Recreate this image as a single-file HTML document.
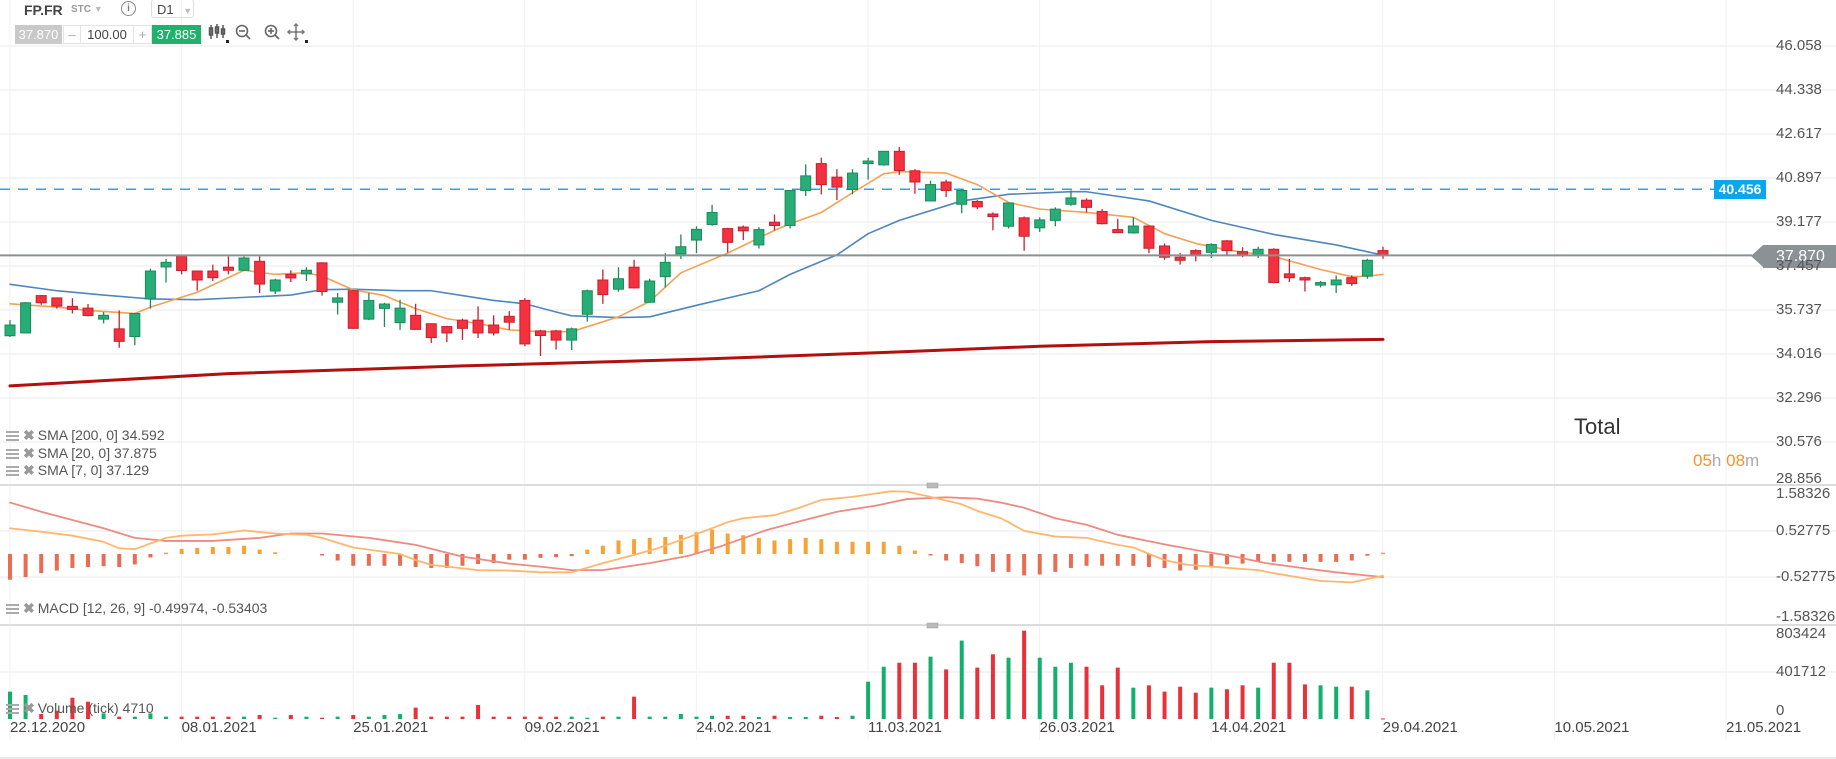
<!DOCTYPE html>
<html><head><meta charset="utf-8">
<style>
html,body{margin:0;padding:0;background:#fff;width:1836px;height:759px;overflow:hidden;font-family:"Liberation Sans",sans-serif;}
#root{position:relative;width:1836px;height:759px;}
svg{position:absolute;left:0;top:0;}
.t{position:absolute;white-space:nowrap;}
.leg{position:absolute;left:6px;font-size:14px;color:#555;white-space:nowrap;}
.ic{display:inline-block;width:13px;height:10px;border-top:2px solid #aaa;border-bottom:2px solid #aaa;position:relative;vertical-align:-1px;margin-right:4px;box-sizing:border-box;}
.ic:after{content:"";position:absolute;left:0;right:0;top:2px;height:2px;background:#aaa;}
.x{color:#999;font-weight:bold;margin-right:3px;}
.ax{position:absolute;font-size:15px;color:#555;left:1776px;}
.dt{position:absolute;top:719px;font-size:15px;color:#444;}
</style></head>
<body>
<div id="root">
<svg id="chart" width="1836" height="759"></svg>

<div class="t" style="left:24px;top:2px;font-size:14px;font-weight:bold;color:#444;">FP.FR</div>
<div class="t" style="left:71px;top:4px;font-size:10px;font-weight:bold;color:#999;">STC <span style="color:#bbb;font-size:9px;">▼</span></div>
<div class="t" style="left:121px;top:1px;width:13px;height:13px;border:1.5px solid #888;border-radius:50%;font-size:10px;color:#777;text-align:center;line-height:13px;font-weight:bold;">i</div>
<div class="t" style="left:151px;top:-1px;width:43px;height:19px;border:1px solid #ddd;border-radius:3px;font-size:13px;color:#444;line-height:19px;padding-left:5px;box-sizing:border-box;">D1 <span style="color:#bbb;font-size:9px;margin-left:6px;">▼</span></div>
<div class="t" style="left:15px;top:25px;width:47px;height:19px;background:#c9c9c9;color:#fff;font-size:13px;line-height:19px;text-align:center;">37.870</div>
<div class="t" style="left:63px;top:25px;width:16px;height:17px;border:1px solid #e3e3e3;color:#aaa;font-size:13px;line-height:17px;text-align:center;">–</div>
<div class="t" style="left:80px;top:25px;width:52px;height:17px;border:1px solid #e3e3e3;color:#444;font-size:13px;line-height:17px;text-align:center;">100.00</div>
<div class="t" style="left:133px;top:25px;width:17px;height:17px;border:1px solid #e3e3e3;color:#aaa;font-size:13px;line-height:17px;text-align:center;">+</div>
<div class="t" style="left:152px;top:25px;width:49px;height:19px;background:#1eb26d;color:#fff;font-size:13px;line-height:19px;text-align:center;">37.885</div>
<svg width="120" height="24" style="left:208px;top:22px;">
 <g stroke="#555" stroke-width="1.5" fill="none"><line x1="3" y1="3" x2="3" y2="17"/><rect x="1.5" y="6" width="3" height="7"/><line x1="9" y1="2" x2="9" y2="16"/><rect x="7.5" y="5" width="3" height="6"/><line x1="15" y1="3" x2="15" y2="16"/><rect x="13.5" y="7" width="3" height="5"/></g>
 <rect x="18" y="18" width="3" height="3" fill="#222"/>
 <g stroke="#666" stroke-width="1.6" fill="none"><circle cx="34" cy="9" r="5.5"/><line x1="38" y1="13" x2="42" y2="17"/><line x1="31" y1="9" x2="37" y2="9"/></g>
 <g stroke="#666" stroke-width="1.6" fill="none"><circle cx="63" cy="9" r="5.5"/><line x1="67" y1="13" x2="71" y2="17"/><line x1="60" y1="9" x2="66" y2="9"/><line x1="63" y1="6" x2="63" y2="12"/></g>
 <g stroke="#777" stroke-width="1.5" fill="none"><line x1="88" y1="2" x2="88" y2="18"/><line x1="80" y1="10" x2="96" y2="10"/><path d="M86 4l2-2 2 2M86 16l2 2 2-2M82 8l-2 2 2 2M94 8l2 2-2 2"/></g>
 <rect x="97" y="18" width="3" height="3" fill="#222"/>
</svg>

<div class="leg" style="top:427px;"><span class="ic"></span><span class="x">✖</span>SMA [200, 0] 34.592</div>
<div class="leg" style="top:445px;"><span class="ic"></span><span class="x">✖</span>SMA [20, 0] 37.875</div>
<div class="leg" style="top:462px;"><span class="ic"></span><span class="x">✖</span>SMA [7, 0] 37.129</div>
<div class="leg" style="top:600px;"><span class="ic"></span><span class="x">✖</span>MACD [12, 26, 9] -0.49974, -0.53403</div>
<div class="leg" style="top:700px;"><span class="ic"></span><span class="x">✖</span>Volume (tick) 4710</div>

<div class="t" style="left:1574px;top:414px;font-size:22px;color:#333;">Total</div>
<div class="t" style="left:1693px;top:451px;font-size:17px;color:#aaa;"><span style="color:#f7931e">05</span>h <span style="color:#f7931e">08</span>m</div>

<div class="t" style="left:1763px;top:245px;height:23px;width:73px;background:#8b9295;color:#fff;font-size:16px;line-height:23px;padding-left:13px;box-sizing:border-box;">37.870</div>
<div class="t" style="left:1751px;top:245px;width:0;height:0;border-top:11.5px solid transparent;border-bottom:11.5px solid transparent;border-right:12px solid #8b9295;"></div>
<div class="t" style="left:1714px;top:180px;height:19px;width:52px;background:#0aa7ee;color:#fff;font-size:14px;font-weight:bold;line-height:19px;text-align:center;">40.456</div>
</div>

<script>
// ---- data ----
const dates = ["22.12.2020","08.01.2021","25.01.2021","09.02.2021","24.02.2021","11.03.2021","26.03.2021","14.04.2021","29.04.2021","10.05.2021","21.05.2021"];
const priceTicks = ["46.058","44.338","42.617","40.897","39.177","37.457","35.737","34.016","32.296","30.576","28.856"];
const macdTicks = ["1.58326","0.52775","-0.52775","-1.58326"];
const volTicks = ["803424","401712","0"];
const opens  = [34.73,34.84,36.30,36.21,35.88,35.81,35.38,35.00,34.70,36.17,37.42,37.86,37.26,37.26,37.41,37.29,37.64,36.48,37.13,37.15,37.58,36.04,36.49,35.38,35.80,35.24,35.53,35.20,35.09,35.34,35.34,35.15,35.49,36.11,34.92,34.92,34.56,35.57,36.91,36.55,37.41,36.04,37.04,37.93,38.47,39.08,38.92,38.98,38.28,39.17,39.04,40.41,41.46,40.93,40.45,41.46,41.41,41.94,41.18,40.00,40.74,39.87,39.98,39.49,39.01,39.34,38.95,39.24,39.87,40.03,39.59,38.88,38.75,39.02,38.24,37.80,38.06,37.99,38.44,38.02,37.89,38.11,37.15,37.00,36.71,36.72,37.00,37.06,38.06];
const highs  = [35.34,36.04,36.32,36.23,36.20,35.97,35.66,35.72,35.63,37.35,37.73,37.90,37.28,37.51,37.83,37.83,37.83,36.96,37.29,37.41,37.60,36.40,36.53,36.40,36.02,36.14,35.98,35.20,35.12,35.40,35.88,35.53,35.69,36.20,34.96,34.96,35.05,36.53,37.32,37.41,37.70,36.96,37.96,38.69,39.01,39.85,38.95,39.04,38.98,39.47,40.41,41.43,41.69,41.24,41.24,41.69,41.94,42.11,41.24,40.79,40.83,40.45,40.03,39.55,39.94,39.39,39.36,39.75,40.41,40.10,39.68,39.30,39.36,39.04,38.34,37.96,38.11,38.34,38.47,38.19,38.21,38.15,37.73,37.04,36.87,37.09,37.09,37.74,38.21];
const lows   = [34.68,34.82,35.94,35.79,35.60,35.49,35.21,34.26,34.36,35.79,36.81,37.13,36.49,36.87,37.13,37.26,36.40,36.36,36.83,36.87,36.30,35.56,35.00,35.34,35.07,34.96,34.96,34.45,34.48,34.57,34.64,34.74,34.96,34.32,33.94,34.19,34.17,35.28,35.98,36.45,36.58,36.02,36.62,37.73,37.96,39.03,37.98,38.47,38.14,38.85,38.92,40.19,40.26,40.03,40.26,40.83,41.38,41.02,40.28,39.98,40.15,39.52,39.68,38.85,38.92,38.05,38.79,39.01,39.81,39.55,39.08,38.76,38.72,37.96,37.70,37.51,37.64,37.77,37.89,37.80,37.77,36.78,36.83,36.46,36.62,36.40,36.68,36.96,37.74];
const closes = [35.15,36.02,36.02,35.89,35.76,35.52,35.53,34.51,35.60,37.26,37.60,37.28,36.91,37.00,37.29,37.77,36.75,36.91,36.99,37.29,36.46,36.21,35.02,36.11,35.97,35.81,34.98,34.66,34.84,35.02,34.84,34.84,35.26,34.41,34.74,34.56,35.00,36.49,36.34,36.96,36.60,36.87,37.60,38.21,38.89,39.55,38.38,38.83,38.88,39.04,40.41,40.98,40.64,40.54,41.09,41.56,41.94,41.19,40.74,40.64,40.41,40.41,39.77,39.39,39.92,38.62,39.26,39.68,40.12,39.75,39.11,38.76,39.02,38.15,37.80,37.68,37.89,38.30,38.06,37.89,38.11,36.81,37.00,36.91,36.81,36.91,36.77,37.68,37.89];
const volumes = [234000,205000,43000,71000,182000,148000,48000,20000,20000,48000,20000,20000,20000,20000,20000,20000,34000,11000,34000,20000,11000,20000,34000,20000,34000,43000,97000,20000,20000,20000,120000,20000,20000,20000,20000,20000,20000,11000,20000,20000,191000,20000,20000,43000,20000,28000,28000,28000,17000,28000,17000,17000,28000,17000,28000,319000,447000,481000,481000,533000,424000,670000,439000,553000,524000,755000,524000,447000,481000,447000,288000,439000,268000,288000,234000,276000,225000,268000,254000,288000,268000,481000,481000,296000,288000,276000,276000,245000,4710];
const sma20Idx = [1,4,7,10,13,16,19,21,23,26,28,30,32,34,36,37,40,42,45,49,51,54,56,58,62,65,69,70,74,78,82,86,89];
const sma20Val = [36.74,36.49,36.32,36.17,36.14,36.23,36.32,36.53,36.55,36.49,36.49,36.30,36.11,35.98,35.66,35.51,35.44,35.47,35.92,36.49,37.13,37.89,38.72,39.24,40.00,40.26,40.36,40.36,40.00,39.24,38.69,38.28,37.88];
const sma7Idx = [1,4,6,9,10,13,16,18,20,21,23,25,27,29,31,33,35,37,40,42,44,45,47,50,51,53,55,57,58,61,63,65,67,70,73,75,77,79,82,85,87,88,89];
const sma7Val = [35.98,35.85,35.72,35.60,35.85,36.43,37.29,37.13,37.19,37.06,36.53,36.30,35.79,35.40,35.21,34.96,34.89,34.89,35.47,36.07,37.19,37.45,37.96,38.85,39.11,39.55,40.32,41.06,41.15,41.09,40.64,39.94,39.68,39.55,39.36,38.72,38.34,38.09,37.83,37.32,37.04,37.06,37.13];
const sma200Idx = [1,15,30,45,58,67,78,89];
const sma200Val = [32.77,33.25,33.55,33.81,34.10,34.32,34.50,34.59];
const histVal = [-0.59,-0.53,-0.44,-0.38,-0.32,-0.30,-0.28,-0.30,-0.24,-0.08,0.03,0.12,0.14,0.16,0.16,0.19,0.10,0.04,0,0,-0.03,-0.15,-0.27,-0.27,-0.27,-0.27,-0.30,-0.32,-0.32,-0.27,-0.23,-0.21,-0.13,-0.13,-0.09,-0.07,-0.05,0.10,0.19,0.31,0.34,0.37,0.39,0.44,0.50,0.56,0.47,0.43,0.37,0.31,0.34,0.37,0.34,0.28,0.28,0.28,0.28,0.19,0.08,-0.02,-0.15,-0.21,-0.28,-0.41,-0.41,-0.49,-0.47,-0.41,-0.32,-0.27,-0.27,-0.27,-0.27,-0.30,-0.32,-0.38,-0.36,-0.30,-0.24,-0.22,-0.17,-0.18,-0.18,-0.18,-0.18,-0.18,-0.15,-0.04,0.03];
const macdIdx = [1,3,5,7,8,9,10,11,12,14,16,18,20,21,23,25,26,27,28,31,33,35,37,39,41,42.5,44,47,48,50,51.5,53,55,57.5,58.5,60,62,63,64.5,65,66,68,70,72,73,75,76.5,79.5,81,82,85,87,89];
const macdVal = [0.59,0.51,0.42,0.28,0.13,0.11,0.24,0.37,0.42,0.45,0.54,0.47,0.44,0.37,0.15,0.05,0,-0.14,-0.25,-0.37,-0.38,-0.42,-0.42,-0.21,-0.02,0.13,0.32,0.73,0.82,0.89,1.05,1.24,1.31,1.44,1.43,1.31,1.14,0.99,0.82,0.73,0.53,0.40,0.37,0.21,0.15,-0.14,-0.25,-0.33,-0.37,-0.44,-0.62,-0.65,-0.50];
const signalIdx = [1,3,5,7,9,11,14,17,19,21,24,27,30,33,35,37,39,42,44.5,46.5,49.5,51.5,54,56.5,58.5,61,63,64.5,66,68,70,72,75,77,79.5,81.5,84,86,89];
const signalVal = [1.18,0.97,0.78,0.59,0.37,0.30,0.30,0.37,0.47,0.47,0.37,0.21,-0.06,-0.22,-0.29,-0.37,-0.37,-0.21,-0.04,0.17,0.55,0.74,0.97,1.11,1.26,1.30,1.27,1.18,1.06,0.82,0.67,0.44,0.22,0.09,-0.06,-0.21,-0.33,-0.42,-0.53];
const levelPrice = 40.456;
const lastPrice = 37.870;

// ---- axes ----
const NS = "http://www.w3.org/2000/svg";
const svg = document.getElementById('chart');
function xAt(i){ return 10 + (i-1)*15.602; }
function yPrice(p){ return 178 + (40.897-p)*25.58; }
function yMacd(v){ return 554 - v*43.6; }
function yVol(v){ return 719 - v/401712*47; }
function mk(tag, attrs){ const e=document.createElementNS(NS,tag); for(const k in attrs) e.setAttribute(k,attrs[k]); svg.appendChild(e); return e; }

// grid
for(let k=0;k<11;k++){
  const gx = 10 + k*171.6;
  const g = mk('line',{x1:gx,y1:0,x2:gx,y2:740,stroke:'#f0f1f2','stroke-width':1});
  
  
}
priceTicks.forEach(t=>{
  const y=yPrice(parseFloat(t));
  if(y<484){ const g=mk('line',{x1:0,y1:y,x2:1836,y2:y,stroke:'#f0f1f2','stroke-width':1.5});
  
   }
  const d=document.createElement('div'); d.className='ax'; d.textContent=t;
  d.style.top=(Math.min(y,479)-9)+'px';
  
  
  document.getElementById('root').appendChild(d);
});
[0.52775,-0.52775].forEach(v=>{ const g=mk('line',{x1:0,y1:yMacd(v),x2:1836,y2:yMacd(v),stroke:'#f0f1f2','stroke-width':1.5});
  
   });
{ const g=mk('line',{x1:0,y1:yVol(401712),x2:1836,y2:yVol(401712),stroke:'#f0f1f2','stroke-width':1.5});
  
   }
const macdTickY=[494,531,577,617];
macdTicks.forEach((t,k)=>{ const d=document.createElement('div'); d.className='ax'; d.textContent=t; d.style.top=(macdTickY[k]-9)+'px';
  
  
  document.getElementById('root').appendChild(d); });
volTicks.forEach(t=>{ const y=Math.max(yVol(parseFloat(t)),634); const d=document.createElement('div'); d.className='ax'; d.textContent=t; d.style.top=(Math.min(y,711)-9)+'px';
  
  
  document.getElementById('root').appendChild(d); });
dates.forEach((t,k)=>{ const d=document.createElement('div'); d.className='dt'; d.textContent=t; d.style.left=(10+k*171.6)+'px';
  
  
  document.getElementById('root').appendChild(d); });

// separators
[[485,'main-macd-separator'],[625,'macd-volume-separator']].forEach(s=>{
  const l=mk('line',{x1:0,y1:s[0],x2:1836,y2:s[0],stroke:'#dcdcdc','stroke-width':2});
  
  
  const h=mk('rect',{x:927,y:s[0]-2,width:11,height:5,fill:'#bbb',stroke:'#999','stroke-width':0.5});
  
  
});
{ const l=mk('line',{x1:0,y1:758,x2:1836,y2:758,stroke:'#e4e4e4','stroke-width':1.5});
  
   }

// level & last price lines
{ const l=mk('line',{x1:0,y1:yPrice(levelPrice),x2:1714,y2:yPrice(levelPrice),stroke:'#23a6ec','stroke-width':1.5,'stroke-dasharray':'10,8'});
  
   }

function poly(idx,val,yf,color,w,name){
  const pts=idx.map((i,k)=>xAt(i)+','+yf(val[k])).join(' ');
  const p=mk('polyline',{points:pts,fill:'none',stroke:color,'stroke-width':w,'stroke-linejoin':'round','stroke-linecap':'round'});
  
  
}
poly(sma200Idx,sma200Val,yPrice,'#b30f0f',3,'sma200-line');
poly(sma20Idx,sma20Val,yPrice,'#4f87bd',1.6,'sma20-line');
poly(sma7Idx,sma7Val,yPrice,'#f5a052',1.6,'sma7-line');

// candles
for(let k=0;k<closes.length;k++){
  const x=xAt(k+1), up=closes[k]>=opens[k];
  const fill=up?'#27ad77':'#f5303f', st=up?'#1c8a5b':'#c4222e';
  const w=mk('line',{x1:x,y1:yPrice(highs[k]),x2:x,y2:yPrice(lows[k]),stroke:st,'stroke-width':1.3});
  
  
  const top=yPrice(Math.max(opens[k],closes[k])), bot=yPrice(Math.min(opens[k],closes[k]));
  const r=mk('rect',{x:x-5,y:top,width:10,height:Math.max(bot-top,1.5),fill:fill,stroke:st,'stroke-width':1});
  
  
}
{ const l=mk('line',{x1:0,y1:yPrice(lastPrice),x2:1752,y2:yPrice(lastPrice),stroke:'#8a9195','stroke-width':2});
  
   }

// macd
histVal.forEach((v,k)=>{
  if(v===0) return;
  const x=xAt(k+1), y0=yMacd(0), y1=yMacd(v);
  const r=mk('rect',{x:x-2,y:Math.min(y0,y1),width:4,height:Math.max(Math.abs(y1-y0),1.5),fill:v>0?'#f7a232':'#ea6c52'});
  
  
});
poly(signalIdx,signalVal,yMacd,'#ec8b82',1.8,'macd-signal-line');
poly(macdIdx,macdVal,yMacd,'#ffb66e',1.8,'macd-line');

// volume
volumes.forEach((v,k)=>{
  const x=xAt(k+1), up=closes[k]>=opens[k];
  const y=yVol(v);
  const r=mk('rect',{x:x-2,y:y,width:4,height:Math.max(719-y,1),fill:up?'#12b06c':'#e8323a'});
  
  
});
</script>
</body></html>
